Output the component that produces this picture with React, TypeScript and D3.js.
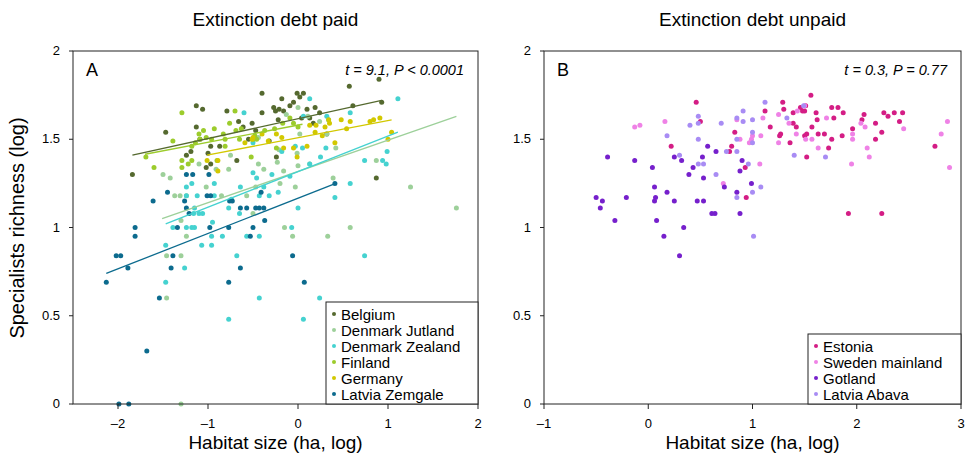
import React from "react";
import * as d3 from "d3";

type Pt = [number, number];

// panel A: extinction debt paid
const belgium: Pt[] = [
  [-1.84, 1.3], [-1.47, 1.54], [-1.24, 1.41], [-1.19, 1.43], [-1.13, 1.69], [-1.13, 1.57], [-1.09, 1.5],
  [-1.06, 1.67], [-1.02, 1.34], [-1.0, 1.42], [-0.97, 1.36], [-0.97, 1.46], [-0.87, 1.46], [-0.79, 1.66],
  [-0.68, 1.38], [-0.66, 1.6], [-0.61, 1.57], [-0.51, 1.59], [-0.55, 1.5], [-0.47, 1.55], [-0.4, 1.76],
  [-0.4, 1.65], [-0.32, 1.49], [-0.27, 1.68], [-0.25, 1.66], [-0.22, 1.61], [-0.21, 1.67], [-0.18, 1.73],
  [-0.16, 1.66], [-0.09, 1.69], [-0.05, 1.71], [-0.01, 1.76], [0.02, 1.74], [0.06, 1.76], [0.1, 1.67],
  [0.04, 1.62], [0.13, 1.62], [0.17, 1.59], [0.19, 1.68], [0.24, 1.65], [0.32, 1.53], [0.57, 1.8],
  [0.61, 1.69], [0.87, 1.28], [0.9, 1.84], [0.93, 1.71], [-0.24, 1.4],
];
const denmarkJutland: Pt[] = [
  [-1.5, 1.3], [-1.42, 1.28], [-1.37, 1.18], [-1.31, 1.18], [-1.3, 1.04], [-1.24, 0.95], [-1.24, 1.18],
  [-1.46, 0.84], [-1.3, 0.84], [-1.46, 0.6], [-1.3, 0.0], [-1.1, 1.36], [-1.02, 1.23], [-0.91, 1.33],
  [-0.85, 1.18], [-0.77, 1.33], [-0.75, 1.41], [-0.57, 1.18], [-0.5, 1.08], [-0.47, 1.23], [-0.44, 1.36],
  [-0.38, 1.33], [-0.23, 1.37], [-0.21, 1.44], [-0.16, 1.32], [-0.15, 1.0], [-0.06, 0.95], [-0.03, 1.23],
  [-0.01, 1.42], [0.0, 1.68], [0.0, 1.35], [0.02, 1.53], [0.11, 1.63], [0.13, 1.36], [0.24, 1.6],
  [0.32, 1.53], [0.33, 0.95], [0.39, 1.28], [0.42, 1.45], [0.58, 1.0], [0.87, 1.38], [1.25, 1.23],
  [1.76, 1.11], [-0.13, 1.64], [-0.44, 1.51], [-0.2, 1.25],
];
const denmarkZealand: Pt[] = [
  [-1.47, 0.9], [-1.47, 0.69], [-1.26, 0.77], [-1.39, 1.0], [-1.24, 1.23], [-1.24, 1.18], [-1.18, 1.25],
  [-1.16, 1.08], [-1.15, 1.11], [-1.18, 1.0], [-1.24, 1.0], [-1.15, 1.0], [-1.12, 1.18], [-1.1, 1.08],
  [-1.06, 1.08], [-1.07, 0.9], [-0.96, 0.95], [-0.96, 0.9], [-0.95, 1.03], [-0.93, 1.25], [-0.93, 1.18],
  [-0.84, 0.95], [-0.77, 1.11], [-0.77, 0.48], [-0.74, 1.16], [-0.68, 0.84], [-0.65, 1.08], [-0.64, 1.23],
  [-0.6, 1.65], [-0.57, 0.95], [-0.5, 1.48], [-0.5, 1.31], [-0.46, 1.28], [-0.43, 1.18], [-0.43, 0.95],
  [-0.43, 0.6], [-0.38, 1.23], [-0.32, 1.18], [-0.29, 1.3], [-0.22, 1.2], [-0.18, 1.43], [-0.09, 1.29],
  [-0.07, 1.0], [-0.03, 1.46], [0.0, 1.11], [0.05, 1.45], [0.06, 0.48], [0.06, 1.63], [0.13, 1.73],
  [0.13, 1.36], [0.24, 0.6], [0.25, 1.4], [0.31, 1.45], [0.32, 1.63], [0.41, 1.17], [0.58, 1.25],
  [0.58, 1.65], [0.74, 0.84], [0.74, 1.38], [0.94, 1.38], [0.98, 1.36], [0.99, 1.43], [1.11, 1.73],
  [0.34, 1.61],
];
const finland: Pt[] = [
  [-1.69, 1.4], [-1.6, 1.34], [-1.39, 1.49], [-1.29, 1.65], [-1.29, 1.38], [-1.22, 1.36], [-1.29, 1.34],
  [-1.18, 1.46], [-1.14, 1.48], [-1.1, 1.53], [-1.09, 1.5], [-1.05, 1.55], [-1.02, 1.51], [-0.96, 1.5],
  [-0.93, 1.56], [-0.9, 1.38], [-0.83, 1.53], [-0.81, 1.5], [-0.81, 1.46], [-0.76, 1.59], [-0.7, 1.66],
  [-0.69, 1.55], [-0.63, 1.56], [-0.52, 1.4], [-0.5, 1.5], [-0.48, 1.52], [-0.46, 1.5], [-0.37, 1.55],
  [-0.26, 1.56], [-0.24, 1.45], [-0.17, 1.59], [-0.05, 1.59], [0.0, 1.57], [-0.09, 1.62], [-0.65, 1.5],
  [-1.18, 1.38],
];
const germany: Pt[] = [
  [-1.01, 1.38], [-0.89, 1.32], [-0.89, 1.38], [-0.59, 1.48], [-0.51, 1.5], [-0.5, 1.51], [-0.4, 1.53],
  [-0.18, 1.51], [-0.16, 1.45], [-0.05, 1.45], [-0.01, 1.4], [0.1, 1.46], [0.13, 1.58], [0.19, 1.54],
  [0.2, 1.58], [0.27, 1.52], [0.3, 1.57], [0.34, 1.61], [0.35, 1.59], [0.41, 1.48], [0.48, 1.61],
  [0.54, 1.56], [0.58, 1.6], [0.8, 1.6], [0.84, 1.61], [0.91, 1.62], [1.04, 1.54], [1.0, 1.5],
  [-0.33, 1.49], [-0.24, 1.53],
];
const latviaZemgale: Pt[] = [
  [-2.13, 0.69], [-2.02, 0.84], [-1.97, 0.84], [-1.89, 0.77], [-1.81, 1.0], [-1.81, 0.95], [-1.68, 0.3],
  [-1.61, 1.15], [-1.54, 0.6], [-1.45, 1.2], [-1.41, 0.77], [-1.39, 0.84], [-1.34, 1.0], [-1.26, 1.15],
  [-1.24, 1.3], [-1.24, 1.11], [-1.21, 1.08], [-1.17, 1.3], [-1.01, 1.18], [-0.99, 1.3], [-0.98, 1.0],
  [-0.97, 1.18], [-0.77, 0.69], [-0.77, 1.0], [-0.76, 1.15], [-0.73, 1.15], [-0.64, 1.11], [-0.64, 0.77],
  [-0.57, 1.11], [-0.53, 0.95], [-0.5, 1.0], [-0.47, 1.11], [-0.43, 1.11], [-0.41, 1.2], [-0.38, 1.11],
  [-0.37, 1.04], [-0.06, 0.84], [0.07, 0.69], [0.41, 1.25], [-1.99, 0.0], [-1.88, 0.0],
];

// fitted lines, panel A (start, end)
const fitBelgium: Pt[] = [[-1.84, 1.41], [0.93, 1.72]];
const fitJutland: Pt[] = [[-1.51, 1.05], [1.76, 1.63]];
const fitZealand: Pt[] = [[-1.47, 1.02], [1.11, 1.54]];
const fitFinland: Pt[] = [[-1.7, 1.415], [0.05, 1.585]];
const fitGermany: Pt[] = [[-1.01, 1.41], [1.04, 1.61]];
const fitZemgale: Pt[] = [[-2.13, 0.74], [0.42, 1.25]];

// panel B: extinction debt unpaid
const estonia: Pt[] = [
  [0.46, 1.71], [0.5, 1.6], [0.22, 1.46], [0.8, 1.46], [0.78, 1.43], [0.83, 1.54], [0.93, 1.34],
  [0.94, 1.17], [1.12, 1.66], [1.17, 1.57], [1.26, 1.52], [1.27, 1.53], [1.29, 1.71], [1.3, 1.67],
  [1.36, 1.48], [1.39, 1.65], [1.39, 1.59], [1.42, 1.57], [1.46, 1.68], [1.48, 1.66], [1.5, 1.66],
  [1.51, 1.69], [1.5, 1.52], [1.52, 1.4], [1.52, 1.53], [1.56, 1.75], [1.57, 1.57], [1.61, 1.65],
  [1.62, 1.61], [1.63, 1.53], [1.69, 1.53], [1.73, 1.45], [1.76, 1.5], [1.76, 1.68], [1.78, 1.62],
  [1.82, 1.68], [1.86, 1.52], [1.87, 1.65], [1.92, 1.08], [1.96, 1.56], [2.05, 1.61], [2.07, 1.64],
  [2.18, 1.59], [2.18, 1.5], [2.24, 1.54], [2.24, 1.08], [2.26, 1.65], [2.3, 1.63], [2.36, 1.65],
  [2.41, 1.6], [2.44, 1.65], [2.75, 1.46],
];
const swedenMainland: Pt[] = [
  [-0.13, 1.57], [-0.08, 1.58], [0.16, 1.6], [0.72, 1.25], [0.88, 1.5], [0.97, 1.48], [0.99, 1.5],
  [1.0, 1.52], [1.07, 1.36], [1.08, 1.52], [1.1, 1.62], [1.25, 1.48], [1.25, 1.64], [1.35, 1.59],
  [1.42, 1.53], [1.43, 1.66], [1.5, 1.69], [1.51, 1.5], [1.57, 1.5], [1.63, 1.45], [1.71, 1.62],
  [1.95, 1.36], [1.96, 1.5], [1.96, 1.53], [2.04, 1.59], [2.08, 1.57], [2.1, 1.45], [2.12, 1.4],
  [2.45, 1.56], [2.81, 1.53], [2.87, 1.6], [2.89, 1.34], [0.85, 1.61],
];
const gotland: Pt[] = [
  [-0.5, 1.17], [-0.46, 1.11], [-0.44, 1.15], [-0.39, 1.4], [-0.32, 1.04], [-0.21, 1.17], [-0.13, 1.38],
  [0.04, 1.34], [0.06, 1.23], [0.07, 1.17], [0.06, 1.15], [0.08, 1.04], [0.15, 0.95], [0.18, 1.2],
  [0.25, 1.4], [0.25, 1.15], [0.3, 0.84], [0.32, 1.38], [0.34, 1.0], [0.39, 1.3], [0.43, 1.34],
  [0.47, 1.15], [0.52, 1.4], [0.53, 1.28], [0.53, 1.15], [0.57, 1.46], [0.61, 1.08], [0.64, 1.08],
  [0.65, 1.43], [0.73, 1.23], [0.85, 1.2], [0.88, 1.32], [0.88, 1.08], [0.9, 1.38], [0.99, 1.25],
];
const latviaAbava: Pt[] = [
  [0.18, 1.52], [0.3, 1.41], [0.4, 1.58], [0.48, 1.63], [0.48, 1.59], [0.48, 1.5], [0.48, 1.36],
  [0.53, 1.36], [0.65, 1.3], [0.7, 1.59], [0.75, 1.43], [0.85, 1.62], [0.85, 1.5], [0.85, 1.43],
  [0.85, 1.17], [0.91, 1.66], [0.91, 1.6], [0.96, 1.36], [1.0, 1.61], [1.0, 1.54], [1.0, 1.48],
  [1.0, 1.2], [1.01, 0.95], [1.08, 1.23], [1.12, 1.71], [1.33, 1.62], [1.4, 1.41], [1.49, 1.69],
  [1.7, 1.4],
];

const yTicks = [0, 0.5, 1, 1.5, 2];
const xTicksA = [-2, -1, 0, 1, 2];
const xTicksB = [-1, 0, 1, 2, 3];

type Series = { name: string; color: string; pts: Pt[]; fit?: Pt[] };

const seriesA: Series[] = [
  { name: "Belgium", color: "#55692f", pts: belgium, fit: fitBelgium },
  { name: "Denmark Jutland", color: "#9dd09a", pts: denmarkJutland, fit: fitJutland },
  { name: "Denmark Zealand", color: "#45d2d0", pts: denmarkZealand, fit: fitZealand },
  { name: "Finland", color: "#9ccc2c", pts: finland, fit: fitFinland },
  { name: "Germany", color: "#d2c800", pts: germany, fit: fitGermany },
  { name: "Latvia Zemgale", color: "#0c6b8e", pts: latviaZemgale, fit: fitZemgale },
];
const seriesB: Series[] = [
  { name: "Estonia", color: "#d41d85", pts: estonia },
  { name: "Sweden mainland", color: "#ef82e6", pts: swedenMainland },
  { name: "Gotland", color: "#7620cc", pts: gotland },
  { name: "Latvia Abava", color: "#a88cf4", pts: latviaAbava },
];

const narrow = "'Liberation Sans Narrow', 'Arial Narrow', 'Liberation Sans', Arial, sans-serif";
const sans = "'Liberation Sans', Arial, sans-serif";

function Panel(props: {
  left: number; right: number; domain: [number, number]; xTicks: number[];
  series: Series[]; title: string; letter: string; stat: string;
  legendX: number; legendY: number;
}) {
  const { left, right, domain, xTicks, series, title, letter, stat, legendX, legendY } = props;
  const top = 51, bottom = 404;
  const x = d3.scaleLinear().domain(domain).range([left, right]);
  const y = d3.scaleLinear().domain([0, 2]).range([bottom, top]);
  const line = d3.line<Pt>().x(d => x(d[0])).y(d => y(d[1]));
  const fmt = (v: number) => (v < 0 ? "\u2013" + Math.abs(v) : String(v));
  const mid = (left + right) / 2;
  return (
    <g>
      <text x={mid} y={26} textAnchor="middle" fontFamily={narrow} fontSize={19}>{title}</text>
      {/* points */}
      {series.map(s => (
        <g key={s.name} fill={s.color}>
          {s.pts.map((p, i) => <circle key={i} cx={x(p[0])} cy={y(p[1])} r={2.5} />)}
        </g>
      ))}
      {series.filter(s => s.fit).map(s => (
        <path key={s.name + "-fit"} d={line(s.fit!) || ""} stroke={s.color} strokeWidth={1.3} fill="none" />
      ))}
      {/* frame */}
      <rect x={left} y={top} width={right - left} height={bottom - top} fill="none" stroke="#222" strokeWidth={1} />
      {yTicks.map(t => (
        <g key={t} transform={`translate(${left},${y(t)})`}>
          <line x1={-4} x2={0} stroke="#222" />
          <text x={-13} y={4} textAnchor="end" fontFamily={narrow} fontSize={13}>{t}</text>
        </g>
      ))}
      {xTicks.map(t => (
        <g key={t} transform={`translate(${x(t)},${bottom})`}>
          <line y1={0} y2={5} stroke="#222" />
          <text y={24} textAnchor="middle" fontFamily={narrow} fontSize={13}>{fmt(t)}</text>
        </g>
      ))}
      <text x={mid} y={449} textAnchor="middle" fontFamily={narrow} fontSize={19}>Habitat size (ha, log)</text>
      <text x={left + 13} y={76} fontFamily={sans} fontSize={18}>{letter}</text>
      <text x={right - 14} y={75} textAnchor="end" fontFamily={sans} fontSize={14.5} fontStyle="italic">{stat}</text>
      {/* legend */}
      <rect x={legendX} y={legendY} width={right - legendX} height={bottom - legendY} fill="white" stroke="#222" />
      {series.map((s, i) => (
        <g key={s.name + "-leg"} transform={`translate(${legendX + 8},${legendY + 12 + i * 16})`}>
          <circle r={2} fill={s.color} />
          <text x={7} y={5.5} fontFamily={sans} fontSize={15}>{s.name}</text>
        </g>
      ))}
    </g>
  );
}

export default function App() {
  return (
    <svg width={967} height={458} style={{ position: "absolute", left: 0, top: 0, background: "white" }}>
      <text transform="translate(24,228) rotate(-90)" textAnchor="middle" fontFamily={narrow} fontSize={20}>
        Specialists richness (log)
      </text>
      <Panel left={73} right={478} domain={[-2.5, 2]} xTicks={xTicksA} series={seriesA}
        title="Extinction debt paid" letter="A" stat="t = 9.1, P < 0.0001" legendX={326} legendY={302} />
      <Panel left={544} right={961} domain={[-1, 3]} xTicks={xTicksB} series={seriesB}
        title="Extinction debt unpaid" letter="B" stat="t = 0.3, P = 0.77" legendX={808} legendY={334} />
    </svg>
  );
}
